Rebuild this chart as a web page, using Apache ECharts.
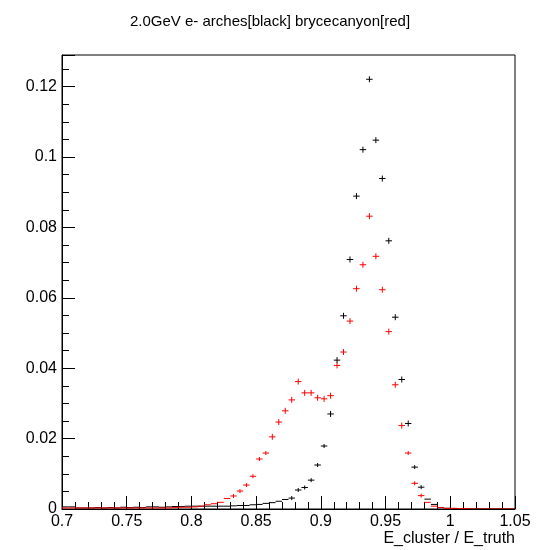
<!DOCTYPE html>
<html>
<head>
<meta charset="utf-8">
<script src="https://cdn.jsdelivr.net/npm/echarts@6/dist/echarts.min.js"></script>
<style>
html,body{margin:0;padding:0;background:#fff;}
#chart{width:540px;height:550px;}
</style>
</head>
<body>
<div id="chart"></div>
<script>
// Histogram binning (x axis): bins of width 0.005 starting at 0.7
const binStart = 0.7;
const binWidth = 0.005;
const nBins = 70;

// arches [black] bin contents
const archesValues = [
  0.0006,0.0006,0.0003,0.0003,0.0003,0.0004,0.0003,0.0004,0.0003,0.0005,
  0.0004,0.0005,0.0004,0.0006,0.0006,0.0005,0.0006,0.0007,0.0007,0.0008,
  0.0008,0.0008,0.0008,0.0008,0.0008,0.0008,0.0009,0.0010,0.0010,0.0012,
  0.0013,0.0016,0.0018,0.0022,0.0027,0.0031,0.0054,0.0061,0.0082,0.0125,
  0.0179,0.0270,0.0423,0.0549,0.0709,0.0889,0.1021,0.1221,0.1048,0.0939,
  0.0762,0.0545,0.0368,0.0243,0.0119,0.0062,0.0028,0.0013,0.0004,0.0002,
  0.0001,0.0001,0.0001,0.0000,0.0000,0.0000,0.0000,0.0000,0.0000,0.0000
];

// brycecanyon [red] bin contents
const bryceValues = [
  0.0003,0.0003,0.0003,0.0003,0.0003,0.0003,0.0003,0.0003,0.0003,0.0003,
  0.0003,0.0003,0.0003,0.0003,0.0003,0.0003,0.0003,0.0004,0.0005,0.0005,
  0.0006,0.0008,0.0012,0.0015,0.0019,0.0030,0.0037,0.0051,0.0068,0.0093,
  0.0142,0.0159,0.0205,0.0247,0.0279,0.0310,0.0362,0.0330,0.0330,0.0316,
  0.0313,0.0322,0.0408,0.0446,0.0534,0.0626,0.0694,0.0832,0.0718,0.0623,
  0.0504,0.0353,0.0237,0.0159,0.0073,0.0038,0.0019,0.0008,0.0004,0.0002,
  0.0002,0.0001,0.0001,0.0000,0.0000,0.0000,0.0000,0.0000,0.0000,0.0000
];

const xTicks = [0.7,0.75,0.8,0.85,0.9,0.95,1,1.05];
const yTicks = [0,0.02,0.04,0.06,0.08,0.1,0.12];
const titleText = '2.0GeV e- arches[black] brycecanyon[red]';
const xTitle = 'E_cluster / E_truth';

function toData(vals){
  return vals.map((v,i)=>[binStart + binWidth*(i+0.5), v]);
}

function makeRender(color){
  return function(params, api){
    const x = api.value(0), y = api.value(1);
    const p0 = api.coord([x - binWidth/2, y]);
    const p1 = api.coord([x + binWidth/2, y]);
    const c = api.coord([x, y]);
    const h = y > 0.02 ? 3 : (y > 0.003 ? 2 : 0);
    const children = [{
      type:'line',
      shape:{x1:p0[0], y1:p0[1], x2:p1[0], y2:p1[1]},
      style:{stroke:color, lineWidth:1}
    }];
    if (h > 0) children.push({
      type:'line',
      shape:{x1:c[0], y1:c[1]-h, x2:c[0], y2:c[1]+h},
      style:{stroke:color, lineWidth:1}
    });
    return {type:'group', children:children};
  };
}

const chart = echarts.init(document.getElementById('chart'), null, {renderer:'canvas'});
const font = 'Liberation Sans, Arial, Helvetica, sans-serif';
chart.setOption({
  animation:false,
  backgroundColor:'#fff',
  title:{
    text:titleText, left:'center', top:9,
    textStyle:{fontFamily:font, fontSize:15, fontWeight:'normal', color:'#000'}
  },
  grid:{left:62, right:25, top:55, bottom:41, show:true, borderColor:'#000', borderWidth:1, backgroundColor:'transparent'},
  xAxis:{
    type:'value', min:0.7, max:1.05, interval:0.05,
    name:xTitle, nameLocation:'end', nameGap:0,
    nameTextStyle:{fontFamily:font, fontSize:16, color:'#000', align:'right', verticalAlign:'top', padding:[22,0,0,0]},
    axisLine:{show:true, lineStyle:{color:'#000', width:1}},
    axisTick:{show:true, inside:true, length:13, lineStyle:{color:'#000'}},
    minorTick:{show:true, splitNumber:5, length:7, lineStyle:{color:'#000'}},
    splitLine:{show:false},
    axisLabel:{fontFamily:font, fontSize:16, color:'#000', margin:5,
      formatter:v=>{const r=+v.toFixed(4); return xTicks.some(t=>Math.abs(t-r)<1e-6)? String(r):'';}}
  },
  yAxis:{
    type:'value', min:0, max:0.129, interval:0.02,
    axisLine:{show:true, lineStyle:{color:'#000', width:1}},
    axisTick:{show:true, inside:true, length:13, lineStyle:{color:'#000'}},
    minorTick:{show:true, splitNumber:4, length:7, lineStyle:{color:'#000'}},
    splitLine:{show:false},
    axisLabel:{fontFamily:font, fontSize:16, color:'#000', margin:5, showMaxLabel:false,
      formatter:v=>{const r=+v.toFixed(4); return yTicks.some(t=>Math.abs(t-r)<1e-6)? String(r):'';}}
  },
  series:[
    {type:'custom', name:'arches', renderItem:makeRender('#000'), data:toData(archesValues), clip:true, z:3},
    {type:'custom', name:'brycecanyon', renderItem:makeRender('#ff0000'), data:toData(bryceValues), clip:true, z:4}
  ]
});
</script>
</body>
</html>
